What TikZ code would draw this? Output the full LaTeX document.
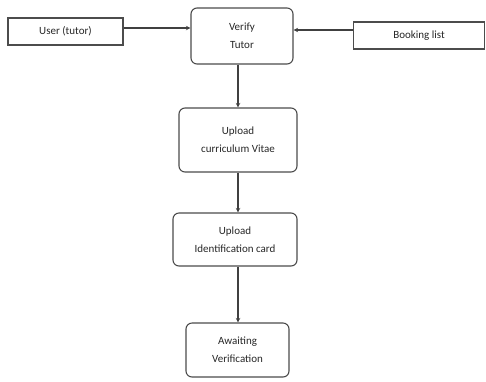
\documentclass[tikz,border=0pt]{standalone}
\usepackage{fontspec}
\setmainfont{Carlito}
\usetikzlibrary{arrows.meta}
\begin{document}
\begin{tikzpicture}[x=1pt,y=-1pt,
  box/.style={draw=black!70,line width=1.1pt,align=center,font=\fontsize{11}{18}\selectfont,text=black!85,inner sep=0pt},
  rbox/.style={box,rounded corners=6pt},
  conn/.style={draw=black!75,line width=1.1pt,-{Stealth[length=4.5pt,width=4.5pt]}}]
\useasboundingbox (0,0) rectangle (486,381);
\node[box,minimum width=115pt,minimum height=27pt] (user) at (65.5,31.5) {User (tutor)};
\node[rbox,minimum width=102pt,minimum height=56pt] (verify) at (242,36) {Verify\\Tutor};
\node[box,minimum width=131pt,minimum height=27pt] (book) at (419,35.5) {Booking list};
\node[rbox,minimum width=118pt,minimum height=64pt] (cv) at (238,140) {Upload\\curriculum Vitae};
\node[rbox,minimum width=124pt,minimum height=53pt] (id) at (235,239.5) {Upload\\Identification card};
\node[rbox,minimum width=103pt,minimum height=54pt] (await) at (237.5,350) {Awaiting\\Verification};
\draw[conn] (user.east |- 0,28) -- (verify.west |- 0,28);
\draw[conn] (book.west |- 0,30) -- (verify.east |- 0,30);
\draw[conn] (verify.south -| 238,0) -- (cv.north -| 238,0);
\draw[conn] (cv.south -| 238,0) -- (id.north -| 238,0);
\draw[conn] (id.south -| 238,0) -- (await.north -| 238,0);
\end{tikzpicture}
\end{document}
